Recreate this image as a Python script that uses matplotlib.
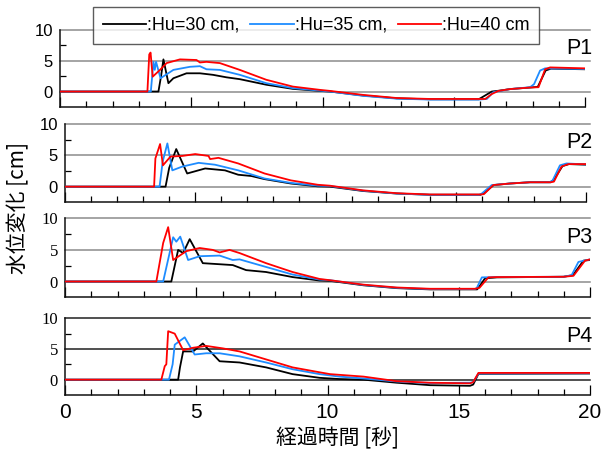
import matplotlib
matplotlib.use("Agg")
import matplotlib.pyplot as plt
from matplotlib.lines import Line2D
from matplotlib.ticker import MultipleLocator, FixedLocator

# ---------------- data ----------------
labels = [":Hu=30 cm,", ":Hu=35 cm,", ":Hu=40 cm"]
colors = ["#000000", "#1E8CFF", "#FF0000"]
panel_names = ["P1", "P2", "P3", "P4"]

# P1
p1_t30 = [0, 3.75, 3.85, 3.94, 4.13, 4.32, 4.82, 5.33, 5.83, 6.34, 6.85, 7.86, 8.87, 9.9, 10.29, 11.56, 12.83, 14.1, 15.95, 16.45, 16.75, 17.15, 17.91, 18.2, 18.5, 18.7, 20]
p1_h30 = [0, 0, 2.5, 5.2, 1.35, 2.15, 2.95, 2.95, 2.7, 2.3, 2.0, 1.1, 0.43, 0.1, 0.0, -0.65, -1.1, -1.25, -1.25, 0.0, 0.15, 0.4, 0.65, 0.75, 3.4, 3.7, 3.6]
p1_t35 = [0, 3.46, 3.56, 3.61, 3.66, 3.83, 4.32, 4.95, 5.33, 5.58, 6.09, 6.85, 7.86, 8.87, 9.9, 10.29, 11.56, 12.83, 14.1, 15.95, 16.26, 16.51, 17.15, 17.91, 18.06, 18.29, 18.48, 20]
p1_h35 = [0, 0, 4.8, 3.5, 4.8, 2.15, 3.5, 4.0, 4.1, 3.6, 3.5, 2.7, 1.35, 0.55, 0.15, 0.0, -0.7, -1.15, -1.3, -1.3, -1.2, -0.1, 0.4, 0.7, 1.2, 3.4, 3.75, 3.65]
p1_t40 = [0, 3.33, 3.40, 3.45, 3.53, 3.81, 4.06, 4.57, 5.2, 5.33, 5.58, 6.09, 6.85, 7.86, 8.87, 9.9, 10.29, 11.56, 12.83, 14.1, 16.2, 16.45, 16.7, 17.15, 17.91, 18.23, 18.48, 18.67, 20]
p1_h40 = [0, 0, 6.0, 6.3, 2.4, 3.5, 4.6, 5.2, 5.1, 4.7, 4.8, 4.6, 3.5, 1.9, 0.8, 0.27, 0.1, -0.55, -1.05, -1.2, -1.2, -0.4, 0.1, 0.4, 0.65, 0.7, 3.6, 3.9, 3.75]

# P2
p2_t30 = [0, 3.86, 4.0, 4.27, 4.69, 5.38, 6.14, 6.65, 7.15, 7.66, 8.67, 9.7, 10.17, 11.45, 12.73, 14.01, 15.95, 16.1, 16.45, 17.08, 17.85, 18.65, 18.78, 19.1, 19.35, 20]
p2_h30 = [0, 0, 3.0, 6.0, 2.1, 2.9, 2.6, 1.9, 1.7, 1.2, 0.5, 0.05, 0.0, -0.7, -1.1, -1.3, -1.3, -1.0, 0.25, 0.5, 0.7, 0.7, 1.2, 3.3, 3.6, 3.5]
p2_t35 = [0, 3.63, 3.75, 3.93, 4.12, 4.5, 5.13, 5.76, 6.65, 7.66, 8.67, 9.7, 10.17, 11.45, 12.73, 14.01, 15.9, 16.0, 16.38, 17.08, 17.85, 18.6, 18.72, 19.0, 19.25, 20]
p2_h35 = [0, 0, 4.0, 6.9, 2.6, 3.2, 3.8, 3.5, 2.6, 1.3, 0.6, 0.15, 0.1, -0.65, -1.1, -1.3, -1.3, -1.1, 0.25, 0.5, 0.7, 0.7, 1.0, 3.4, 3.7, 3.55]
p2_t40 = [0, 3.42, 3.47, 3.65, 3.76, 4.05, 4.5, 5.0, 5.51, 5.57, 5.89, 6.65, 7.66, 8.67, 9.7, 10.17, 11.45, 12.73, 14.01, 15.95, 16.08, 16.44, 17.08, 17.85, 18.65, 18.77, 19.06, 19.32, 20]
p2_h40 = [0, 0, 4.5, 6.8, 3.4, 4.8, 4.9, 5.2, 4.9, 4.4, 4.6, 3.7, 2.1, 1.0, 0.3, 0.15, -0.6, -1.05, -1.25, -1.25, -1.2, 0.25, 0.5, 0.7, 0.7, 0.8, 3.2, 3.6, 3.6]

# P3
p3_t30 = [0, 4.05, 4.31, 4.5, 4.75, 5.25, 5.63, 6.39, 6.9, 7.66, 8.67, 9.7, 10.1, 11.37, 12.64, 13.91, 15.7, 15.75, 16.0, 16.45, 18.99, 19.35, 19.75, 20]
p3_h30 = [0, 0, 5.0, 4.5, 6.7, 2.9, 2.8, 2.6, 1.8, 1.5, 0.7, 0.15, 0.1, -0.6, -1.05, -1.25, -1.25, -1.0, 0.5, 0.65, 0.75, 1.0, 3.3, 3.4]
p3_t35 = [0, 3.74, 4.12, 4.24, 4.39, 4.69, 5.13, 5.89, 6.39, 6.65, 7.66, 8.67, 9.7, 10.1, 11.37, 12.64, 13.91, 15.62, 15.69, 15.88, 16.45, 18.99, 19.3, 19.56, 20]
p3_h35 = [0, 0, 7.0, 6.3, 7.1, 3.4, 4.0, 4.1, 3.4, 3.5, 2.3, 1.1, 0.3, 0.2, -0.55, -1.0, -1.2, -1.2, -1.0, 0.65, 0.7, 0.75, 1.0, 3.1, 3.5]
p3_t40 = [0, 3.48, 3.74, 3.93, 4.12, 4.62, 5.13, 5.63, 5.89, 6.27, 6.65, 7.66, 8.67, 9.7, 10.1, 11.37, 12.64, 13.91, 15.62, 15.79, 16.13, 16.45, 18.99, 19.37, 19.81, 20]
p3_h40 = [0, 0, 6.1, 8.6, 3.4, 4.8, 5.3, 5.0, 4.6, 5.0, 4.5, 2.9, 1.5, 0.4, 0.2, -0.5, -0.95, -1.15, -1.15, -1.0, 0.65, 0.7, 0.75, 0.9, 3.3, 3.5]

# P4
p4_t30 = [0, 4.31, 4.38, 4.5, 4.88, 5.25, 5.89, 6.65, 7.66, 8.67, 9.7, 10.45, 11.37, 12.64, 13.91, 15.43, 15.55, 15.75, 20]
p4_h30 = [0, 0, 2.0, 4.6, 4.6, 5.9, 3.0, 2.8, 2.0, 0.9, 0.3, 0.1, 0.0, -0.5, -0.9, -1.0, -0.8, 0.95, 1.0]
p4_t35 = [0, 3.96, 4.1, 4.18, 4.56, 4.94, 5.38, 5.89, 6.65, 7.66, 8.67, 9.7, 10.45, 11.37, 12.64, 13.91, 15.43, 15.55, 15.75, 20]
p4_h35 = [0, 0, 2.5, 5.7, 6.9, 4.1, 4.3, 4.3, 3.8, 2.8, 1.7, 0.9, 0.5, 0.2, -0.3, -0.55, -0.5, -0.4, 1.0, 1.05]
p4_t40 = [0, 3.67, 3.8, 3.86, 3.93, 4.18, 4.5, 4.88, 5.38, 6.01, 6.65, 7.66, 8.67, 9.7, 10.1, 11.37, 12.64, 13.91, 15.43, 15.55, 15.75, 20]
p4_h40 = [0, 0, 2.2, 2.5, 7.9, 7.5, 4.8, 5.2, 5.5, 5.1, 4.6, 3.3, 2.0, 1.2, 0.9, 0.5, -0.25, -0.5, -0.6, -0.4, 1.1, 1.1]

panels = [
    [(p1_t30, p1_h30), (p1_t35, p1_h35), (p1_t40, p1_h40)],
    [(p2_t30, p2_h30), (p2_t35, p2_h35), (p2_t40, p2_h40)],
    [(p3_t30, p3_h30), (p3_t35, p3_h35), (p3_t40, p3_h40)],
    [(p4_t30, p4_h30), (p4_t35, p4_h35), (p4_t40, p4_h40)],
]
x_ticks = [0, 5, 10, 15, 20]
y_ticks = [0, 5, 10]

# ---------------- figure ----------------
W, H = 604, 457
fig = plt.figure(figsize=(W / 100, H / 100), dpi=100)

# axes boxes in pixels: (left, right, top(10-line), bottom)
boxes = [(60, 585, 29.7, 107.0), (65, 586, 124.0, 202.3),
         (65, 590, 218.3, 297.3), (65, 590, 318.3, 395.0)]
grid_colors = ["#8c8c8c", "#8c8c8c", "#8c8c8c", "#202020"]
ytick_fonts = ["Liberation Sans", "Liberation Sans", "Liberation Serif", "Liberation Serif"]

for i, (series, box) in enumerate(zip(panels, boxes)):
    l, r, t, b = box
    ax = fig.add_axes([l / W, 1 - b / H, (r - l) / W, (b - t) / H])
    ax.set_xlim(0, 20)
    ax.set_ylim(-2.5, 10)
    for sp in ("top", "right"):
        ax.spines[sp].set_visible(False)
    for sp in ("left", "bottom"):
        ax.spines[sp].set_linewidth(1.1)
        ax.spines[sp].set_color("#111111")
    # gridlines (extend slightly past right end)
    xmax = (590 - l) / (r - l)
    for yv in y_ticks:
        ax.axhline(yv, xmin=0, xmax=xmax, color=grid_colors[i], lw=1.1,
                   clip_on=False, zorder=1)
    for (tt, hh), c in zip(series, colors):
        ax.plot(tt, hh, color=c, lw=1.3, zorder=3)
    # ticks
    ax.xaxis.set_major_locator(FixedLocator(x_ticks))
    ax.xaxis.set_minor_locator(MultipleLocator(1))
    ax.tick_params(axis="x", which="major", direction="in", length=7, width=0.9)
    ax.tick_params(axis="x", which="minor", direction="in", length=4, width=0.9)
    ax.yaxis.set_major_locator(FixedLocator(y_ticks))
    ax.yaxis.set_minor_locator(FixedLocator([2.5, 7.5]))
    ax.tick_params(axis="y", which="major", length=0, pad=5)
    ax.tick_params(axis="y", which="minor", direction="in", length=4, width=0.9)
    ax.set_yticklabels([str(v) for v in y_ticks], fontsize=12,
                       family=ytick_fonts[i])
    if i == 3:
        ax.set_xticklabels([str(v) for v in x_ticks], fontsize=15,
                           family="Liberation Sans")
        ax.tick_params(axis="x", which="major", pad=6)
    else:
        ax.set_xticklabels([])
    ax.text(1.0 + (592 - r) / (r - l), 7.0, panel_names[i], transform=ax.get_yaxis_transform(),
            ha="right", va="center", fontsize=15.5, family="Liberation Sans")

# legend
handles = [Line2D([], [], color=c, lw=1.3) for c in colors]
leg = fig.legend(handles, labels, loc="upper left",
                 bbox_to_anchor=(93 / W, 1 - 7 / H), ncol=3, frameon=True,
                 fancybox=False, borderaxespad=0, handlelength=2.4,
                 handletextpad=0.05, columnspacing=0.6, borderpad=0.55,
                 prop={"family": "Liberation Sans", "size": 13})
leg.get_frame().set_edgecolor("#333333")
leg.get_frame().set_linewidth(1.0)

# axis labels
cjk = ["Noto Sans CJK JP", "DejaVu Sans"]
fig.text(18 / W, 1 - 208 / H, "水位変化 [cm]", rotation=90, ha="center",
         va="center", fontsize=15, family=cjk)
fig.text(338 / W, 1 - 438 / H, "経過時間 [秒]", ha="center", va="center",
         fontsize=15, family=cjk)

fig.savefig("out.png", dpi=100)
